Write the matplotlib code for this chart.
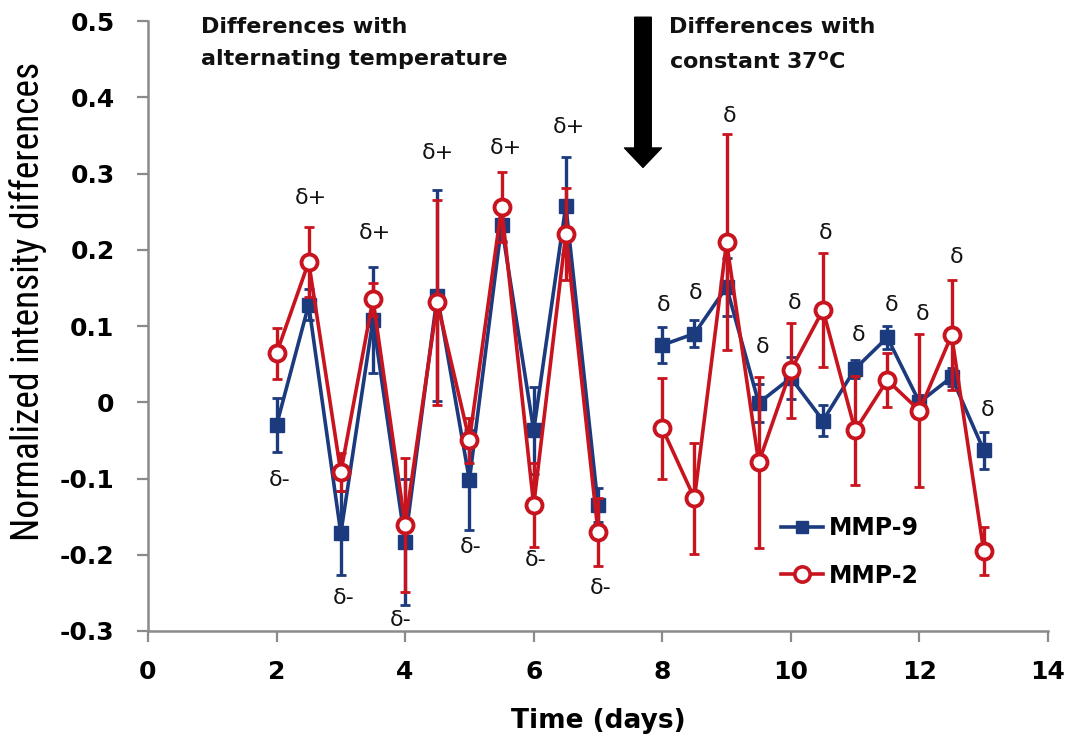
import numpy as np
import matplotlib
matplotlib.use('Agg')
import matplotlib.pyplot as plt
from matplotlib.lines import Line2D
from matplotlib import font_manager

# days sampled twice a day, gap between 7 and 8
days_alt = [2, 2.5, 3, 3.5, 4, 4.5, 5, 5.5, 6, 6.5, 7]
days_const = [8, 8.5, 9, 9.5, 10, 10.5, 11, 11.5, 12, 12.5, 13]

mmp9_alt = [-0.030, 0.128, -0.172, 0.108, -0.183, 0.140, -0.102, 0.232, -0.037, 0.258, -0.135]
mmp9_alt_err = [0.035, 0.020, 0.055, 0.070, 0.083, 0.138, 0.066, 0.020, 0.057, 0.064, 0.022]
mmp2_alt = [0.064, 0.184, -0.092, 0.135, -0.161, 0.131, -0.050, 0.256, -0.135, 0.221, -0.170]
mmp2_alt_err = [0.033, 0.046, 0.025, 0.022, 0.088, 0.134, 0.030, 0.046, 0.055, 0.060, 0.045]

mmp9_const = [0.075, 0.090, 0.151, -0.001, 0.032, -0.024, 0.044, 0.085, 0.000, 0.033, -0.063]
mmp9_const_err = [0.024, 0.018, 0.038, 0.025, 0.028, 0.020, 0.012, 0.015, 0.010, 0.012, 0.024]
mmp2_const = [-0.034, -0.126, 0.210, -0.079, 0.042, 0.121, -0.037, 0.029, -0.011, 0.088, -0.195]
mmp2_const_err = [0.066, 0.073, 0.142, 0.112, 0.062, 0.075, 0.072, 0.035, 0.100, 0.072, 0.032]

# significance markers
sig_text = ['δ-', 'δ+', 'δ-', 'δ+', 'δ-', 'δ+', 'δ-', 'δ+', 'δ-', 'δ+', 'δ-',
            'δ', 'δ', 'δ', 'δ', 'δ', 'δ', 'δ', 'δ', 'δ', 'δ', 'δ']
sig_x = [2.05, 2.53, 3.05, 3.53, 3.93, 4.51, 5.02, 5.57, 6.03, 6.55, 7.04,
         8.02, 8.52, 9.04, 9.56, 10.05, 10.54, 11.06, 11.56, 12.05, 12.57, 13.06]
sig_y = [-0.102, 0.268, -0.257, 0.222, -0.286, 0.327, -0.190, 0.334, -0.207, 0.361, -0.244,
         0.127, 0.143, 0.376, 0.072, 0.130, 0.222, 0.088, 0.127, 0.116, 0.190, -0.010]

blue = '#1c3a7e'
red = '#c8141e'
gray = '#8a8a8a'

# a condensed face for the y label if one is around
names = {f.name for f in font_manager.fontManager.ttflist}
narrow = [n for n in ['Liberation Sans Narrow', 'DejaVu Sans Condensed', 'Roboto Condensed',
                      'Open Sans Condensed'] if n in names]

fig = plt.figure(figsize=(10.76, 7.38), dpi=100)
ax = fig.add_axes([0.1375, 0.145, 0.8365, 0.8265])

for days, y9, e9, y2, e2 in [(days_alt, mmp9_alt, mmp9_alt_err, mmp2_alt, mmp2_alt_err),
                              (days_const, mmp9_const, mmp9_const_err, mmp2_const, mmp2_const_err)]:
    ax.errorbar(days, y9, yerr=e9, fmt='none', ecolor=blue, elinewidth=2.4,
                capsize=3.5, capthick=2, zorder=2)
    ax.plot(days, y9, color=blue, lw=2.6, marker='s', ms=9.5, zorder=3)
    ax.errorbar(days, y2, yerr=e2, fmt='none', ecolor=red, elinewidth=2.4,
                capsize=3.5, capthick=2, zorder=4)
    ax.plot(days, y2, color=red, lw=2.6, marker='o', ms=11.5, mfc='white',
            mec=red, mew=2.8, zorder=5)

for t, x, y in zip(sig_text, sig_x, sig_y):
    ax.text(x, y, t, ha='center', va='center', fontsize=16, color='#111111')

ax.set_xlim(0, 14)
ax.set_ylim(-0.3, 0.5)
ax.set_xticks(np.arange(0, 15, 2))
ax.set_yticks(np.arange(-0.3, 0.51, 0.1))
ax.set_yticklabels(['-0.3', '-0.2', '-0.1', '0', '0.1', '0.2', '0.3', '0.4', '0.5'])

for s in ['top', 'right']:
    ax.spines[s].set_visible(False)
for s in ['left', 'bottom']:
    ax.spines[s].set_color(gray)
    ax.spines[s].set_linewidth(1.8)
ax.tick_params(axis='both', direction='out', color=gray, width=1.6, length=8,
               labelsize=18)
ax.tick_params(axis='y', pad=16)
ax.tick_params(axis='x', pad=13)
for lbl in ax.get_xticklabels() + ax.get_yticklabels():
    lbl.set_fontweight('bold')

ax.set_xlabel('Time (days)', fontsize=19, fontweight='bold', labelpad=17)
if narrow:
    ax.set_ylabel('Normalized intensity differences', fontsize=27,
                  family=[narrow[0], 'DejaVu Sans'])
else:
    ax.set_ylabel('Normalized intensity differences', fontsize=21,
                  family=['Roboto', 'DejaVu Sans'])
ax.yaxis.set_label_coords(-0.112, 0.54)

# arrow marking the switch to constant temperature
ax.annotate('', xy=(7.70, 0.308), xytext=(7.70, 0.505),
            arrowprops=dict(arrowstyle='simple,head_length=1.0,head_width=1.9,tail_width=0.85',
                            color='black', shrinkA=0, shrinkB=0, mutation_scale=14),
            annotation_clip=False)

ax.text(0.82, 0.505, 'Differences with\nalternating temperature', fontsize=16,
        fontweight='bold', va='top', ha='left', linespacing=1.75, color='#111111')
ax.text(8.10, 0.505, 'Differences with\nconstant 37$^{\\mathbf{o}}$C', fontsize=16,
        fontweight='bold', va='top', ha='left', linespacing=1.75, color='#111111')

handles = [Line2D([], [], color=blue, lw=2.6, marker='s', ms=8),
           Line2D([], [], color=red, lw=2.6, marker='o', ms=11, mfc='white', mec=red, mew=2.6)]
ax.legend(handles, ['MMP-9', 'MMP-2'], loc='center left', bbox_to_anchor=(0.703, 0.13),
          frameon=False, prop={'size': 17, 'weight': 'bold'}, handlelength=1.8,
          handletextpad=0.25, labelspacing=1.0, borderpad=0, borderaxespad=0)

fig.savefig('out.png', dpi=100)
